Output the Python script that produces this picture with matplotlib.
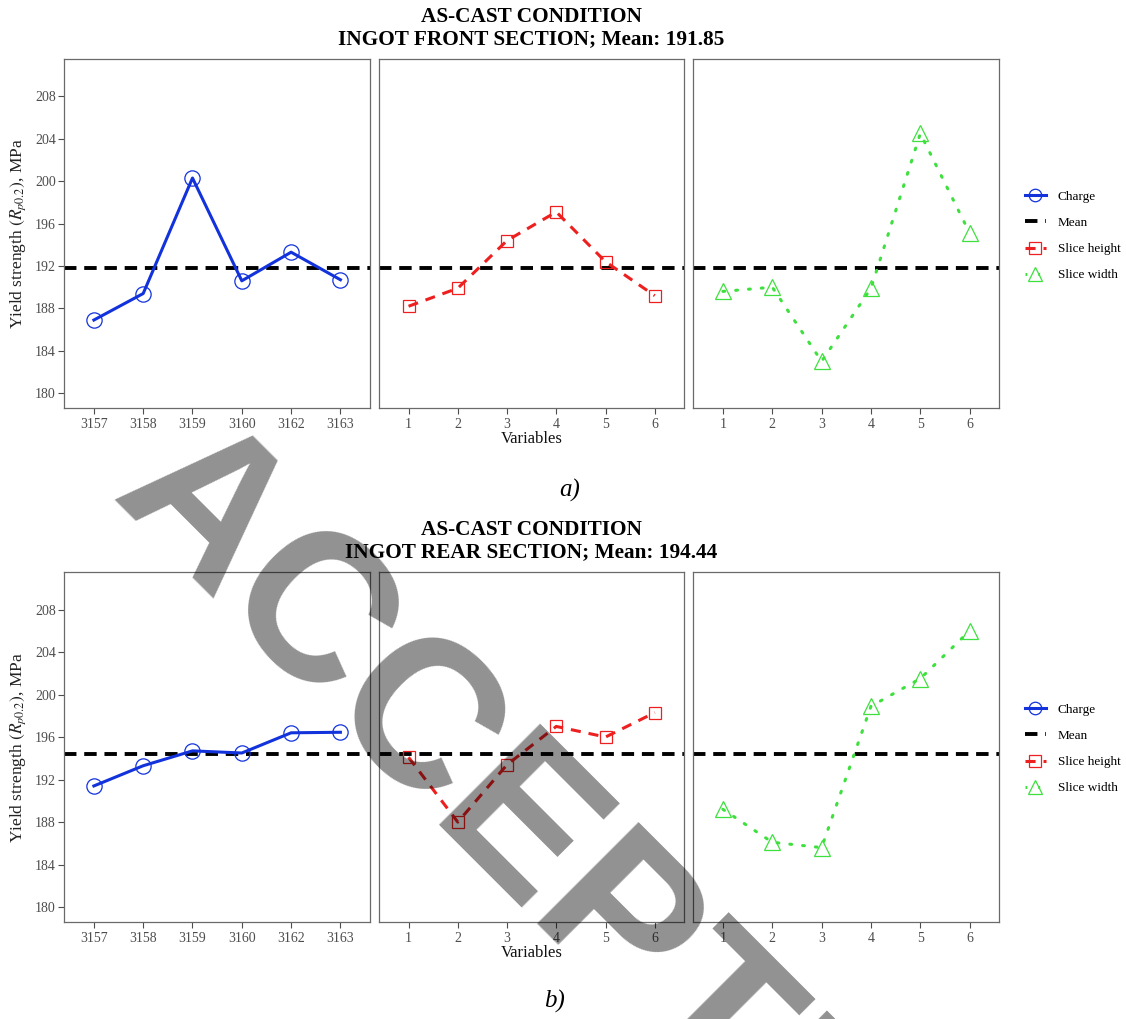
import matplotlib
matplotlib.use("Agg")
import matplotlib.pyplot as plt
from matplotlib.lines import Line2D

plt.rcParams['font.family'] = ['Liberation Serif', 'DejaVu Serif']
plt.rcParams['mathtext.fontset'] = 'stix'

# ---------------- data ----------------
charge_labels = ['3157', '3158', '3159', '3160', '3162', '3163']
variable_labels = ['1', '2', '3', '4', '5', '6']
y_ticks = [180, 184, 188, 192, 196, 200, 204, 208]

front_charge = [186.9, 189.4, 200.3, 190.6, 193.3, 190.7]
front_height = [188.2, 189.9, 194.4, 197.1, 192.4, 189.2]
front_width = [189.6, 190.0, 183.0, 189.9, 204.5, 195.1]
front_mean = 191.85

rear_charge = [191.4, 193.3, 194.7, 194.5, 196.4, 196.45]
rear_height = [194.1, 188.0, 193.4, 197.0, 196.0, 198.3]
rear_width = [189.2, 186.1, 185.6, 198.9, 201.5, 206.0]
rear_mean = 194.44

legend_labels = ['Charge', 'Mean', 'Slice height', 'Slice width']

# ---------------- styles ----------------
W, H = 1126, 1019
BLUE = '#1232dc'
RED = '#ee1f1f'
GREEN = '#3ee03e'
FRAME = '#6a6a6a'
TICKC = '#4d4d4d'

fig = plt.figure(figsize=(W / 100, H / 100), dpi=100)


def rect(x0, y0, x1, y1):
    return [x0 / W, 1 - y1 / H, (x1 - x0) / W, (y1 - y0) / H]


panel_x = [(64.3, 370.0), (379.0, 684.3), (693.3, 999.3)]

series_style = [
    dict(color=BLUE, ls='-', marker='o', ms=11, lw=2.2),
    dict(color=RED, ls=(0, (3.3, 2.6)), marker='s', ms=9, lw=2.2),
    dict(color=GREEN, ls=(0, (0.6, 3.6)), marker='^', ms=11, lw=2.2,
         dash_capstyle='round'),
]


def draw_row(y0, y1, values, mean, title2, legend_cy):
    for i, (x0, x1) in enumerate(panel_x):
        ax = fig.add_axes(rect(x0, y0, x1, y1))
        xs = list(range(1, 7))
        st = series_style[i]
        ax.axhline(mean, color='black', lw=2.8, ls=(0, (3.2, 2.0)), zorder=2)
        ax.plot(xs, values[i], color=st['color'], ls=st['ls'], lw=st['lw'],
                marker=st['marker'], ms=st['ms'], mfc='none', mec=st['color'],
                mew=0.9, zorder=3,
                **({'dash_capstyle': st['dash_capstyle']} if 'dash_capstyle' in st else {}))
        ax.set_xlim(0.4, 6.6)
        ax.set_ylim(178.6, 211.5)
        ax.set_xticks(xs)
        ax.set_xticklabels(charge_labels if i == 0 else variable_labels)
        for s in ax.spines.values():
            s.set_color(FRAME)
            s.set_linewidth(0.9)
        ax.tick_params(axis='x', colors=TICKC, labelcolor=TICKC, labelsize=10,
                       length=4, width=0.8, pad=3)
        if i == 0:
            ax.set_yticks(y_ticks)
            ax.tick_params(axis='y', colors=TICKC, labelcolor=TICKC, labelsize=10,
                           length=4, width=0.8, pad=2)
            ax.set_ylabel(r'Yield strength $(R_{p0.2})$, MPa', fontsize=12.5,
                          color='#222222', labelpad=5)
        else:
            ax.set_yticks([])
        if i == 1:
            ax.set_xlabel('Variables', fontsize=12, color='#111111', labelpad=0)
    # titles
    cx = 531.5 / W
    fig.text(cx, 1 - (y0 - 42) / H, 'AS-CAST CONDITION', ha='center', va='center',
             fontsize=15.3, fontweight='bold')
    fig.text(cx, 1 - (y0 - 20) / H, title2, ha='center', va='center',
             fontsize=15.3, fontweight='bold')
    handles = [
        Line2D([], [], color=BLUE, lw=2.2, marker='o', ms=9, mfc='none', mec=BLUE, mew=0.9),
        Line2D([], [], color='black', lw=2.8, ls=(0, (3.2, 2.0))),
        Line2D([], [], color=RED, lw=2.2, ls=(0, (3.3, 2.6)), marker='s', ms=8, mfc='none',
               mec=RED, mew=0.9),
        Line2D([], [], color=GREEN, lw=2.2, ls=(0, (0.6, 3.6)), marker='^', ms=10,
               mfc='none', mec=GREEN, mew=0.9),
    ]
    fig.legend(handles, legend_labels, loc='center left',
               bbox_to_anchor=(1018 / W, 1 - legend_cy / H), frameon=False,
               fontsize=9.5, handlelength=1.6, handletextpad=0.9, labelspacing=1.05,
               borderpad=0)


draw_row(59.3, 408.0, [front_charge, front_height, front_width], front_mean,
         'INGOT FRONT SECTION; Mean: 191.85', 236.0)
draw_row(572.3, 922.0, [rear_charge, rear_height, rear_width], rear_mean,
         'INGOT REAR SECTION; Mean: 194.44', 749.0)

fig.text(570 / W, 1 - 490 / H, 'a)', ha='center', va='center', fontsize=18,
         style='italic')
fig.text(555 / W, 1 - 1001 / H, 'b)', ha='center', va='center', fontsize=18,
         style='italic')

# watermark
fig.text(108 / W, 1 - 500 / H, 'ACCEPTED', rotation=-45, rotation_mode='anchor',
         ha='left', va='baseline', fontsize=150, fontweight='bold',
         family=['Liberation Sans', 'DejaVu Sans'], color='black', alpha=0.43,
         zorder=20)

fig.savefig('out.png', dpi=100)
